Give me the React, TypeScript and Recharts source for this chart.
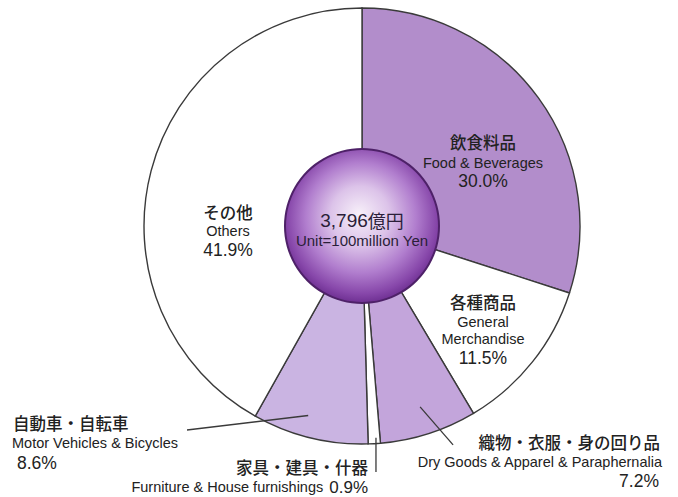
import React from 'react';
import { PieChart, Pie, Cell } from 'recharts';

// Sales breakdown, clockwise from 12 o'clock
const CATEGORIES_JA = ['飲食料品', '各種商品', '織物・衣服・身の回り品', '家具・建具・什器', '自動車・自転車', 'その他'];
const CATEGORIES_EN = ['Food & Beverages', 'General Merchandise', 'Dry Goods & Apparel & Paraphernalia', 'Furniture & House furnishings', 'Motor Vehicles & Bicycles', 'Others'];
const SHARES = [30.0, 11.5, 7.2, 0.9, 8.6, 41.9];
const UNIT_LABEL = 'Unit=100million Yen';

const SLICE_COLORS = ['#b28dcb', '#ffffff', '#c3a5db', '#ffffff', '#cab4e2', '#ffffff'];
const STROKE = '#3a3a3a';
const TEXT = '#222222';
const JA_FONT = '"Noto Sans CJK JP", sans-serif';
const EN_FONT = '"Liberation Sans", Arial, sans-serif';

const pieData = CATEGORIES_EN.map((name, i) => ({ name, ja: CATEGORIES_JA[i], value: SHARES[i] }));
const centerData = [{ name: 'total', value: 1 }];

const RAD = Math.PI / 180;
const polar = (cx: number, cy: number, r: number, angle: number) => ({
  x: cx + r * Math.cos(-angle * RAD),
  y: cy + r * Math.sin(-angle * RAD),
});

const ja = (x: number, y: number, s: string, anchor = 'middle') => (
  <text x={x} y={y} textAnchor={anchor} dominantBaseline="central" fill={TEXT}
    style={{ fontFamily: JA_FONT, fontSize: 16.5, fontWeight: 500 }}>{s}</text>
);
const en = (x: number, y: number, s: string, anchor = 'middle') => (
  <text x={x} y={y} textAnchor={anchor} dominantBaseline="central" fill={TEXT}
    style={{ fontFamily: EN_FONT, fontSize: 14.5 }}>{s}</text>
);
const pct = (x: number, y: number, v: number, anchor = 'middle') => (
  <text x={x} y={y} textAnchor={anchor} dominantBaseline="central" fill={TEXT}
    style={{ fontFamily: EN_FONT, fontSize: 17.5 }}>{`${v.toFixed(1)}%`}</text>
);

const renderLabel = (props: any) => {
  const { cx, cy, midAngle, index } = props;
  const v = SHARES[index];
  const key = `lbl-${index}`;
  switch (index) {
    case 0:
      return (
        <g key={key}>
          {ja(cx + 121, cy - 84, CATEGORIES_JA[0])}
          {en(cx + 121, cy - 63, CATEGORIES_EN[0])}
          {pct(cx + 121, cy - 45, v)}
        </g>
      );
    case 1:
      return (
        <g key={key}>
          {ja(cx + 121, cy + 76, CATEGORIES_JA[1])}
          {en(cx + 121, cy + 96, 'General')}
          {en(cx + 121, cy + 113, 'Merchandise')}
          {pct(cx + 121, cy + 132, v)}
        </g>
      );
    case 2: {
      const p = polar(cx, cy, 190, midAngle);
      return (
        <g key={key}>
          <line x1={p.x} y1={p.y} x2={p.x + 33} y2={p.y + 38} stroke={STROKE} strokeWidth={1.3} />
          {ja(cx + 298, cy + 216, CATEGORIES_JA[2], 'end')}
          {en(cx + 300, cy + 236, CATEGORIES_EN[2], 'end')}
          {pct(cx + 297, cy + 255, v, 'end')}
        </g>
      );
    }
    case 3: {
      const p = polar(cx, cy, 212, midAngle);
      return (
        <g key={key}>
          <line x1={p.x + 2} y1={p.y} x2={p.x + 2} y2={cy + 246} stroke={STROKE} strokeWidth={1.3} />
          {ja(cx + 6, cy + 241, CATEGORIES_JA[3], 'end')}
          <text x={cx + 6} y={cy + 261} textAnchor="end" dominantBaseline="central" fill={TEXT}>
            <tspan style={{ fontFamily: EN_FONT, fontSize: 14.5 }}>{CATEGORIES_EN[3]}</tspan>
            <tspan dx={6} style={{ fontFamily: EN_FONT, fontSize: 17 }}>{`${v.toFixed(1)}%`}</tspan>
          </text>
        </g>
      );
    }
    case 4: {
      const p = polar(cx, cy, 197, midAngle - 2);
      return (
        <g key={key}>
          <line x1={p.x} y1={p.y} x2={cx - 175} y2={cy + 204} stroke={STROKE} strokeWidth={1.3} />
          {ja(cx - 349, cy + 197, CATEGORIES_JA[4], 'start')}
          {en(cx - 350, cy + 217, CATEGORIES_EN[4], 'start')}
          {pct(cx - 345, cy + 237, v, 'start')}
        </g>
      );
    }
    default:
      return (
        <g key={key}>
          {ja(cx - 134, cy - 14, CATEGORIES_JA[5])}
          {en(cx - 134, cy + 5, CATEGORIES_EN[5])}
          {pct(cx - 134, cy + 24, v)}
        </g>
      );
  }
};

const renderCenter = (props: any) => {
  const { cx, cy } = props;
  return (
    <g key="center">
      <text x={cx} y={cy - 6} textAnchor="middle" dominantBaseline="central" fill="#2a1e38"
        style={{ fontFamily: EN_FONT, fontSize: 19 }}>
        3,796<tspan style={{ fontFamily: JA_FONT, fontSize: 18 }}>億円</tspan>
      </text>
      <text x={cx} y={cy + 14} textAnchor="middle" dominantBaseline="central" fill="#2a1e38"
        style={{ fontFamily: EN_FONT, fontSize: 15 }}>{UNIT_LABEL}</text>
    </g>
  );
};

const App: React.FC = () => {
  return (
    <div style={{ position: 'absolute', left: 0, top: 0, width: 678, height: 497, background: '#ffffff' }}>
      <PieChart width={678} height={497} margin={{ top: 0, right: 0, bottom: 0, left: 0 }}>
        <defs>
          <radialGradient id="centerGrad" cx="50%" cy="46%" r="55%" fx="48%" fy="42%">
            <stop offset="0%" stopColor="#f7f0f9" />
            <stop offset="35%" stopColor="#dcc3e9" />
            <stop offset="65%" stopColor="#b17ece" />
            <stop offset="88%" stopColor="#8747aa" />
            <stop offset="100%" stopColor="#6a2c8e" />
          </radialGradient>
        </defs>
        <Pie
          data={pieData}
          dataKey="value"
          cx={362}
          cy={226}
          outerRadius={218}
          innerRadius={0}
          startAngle={90}
          endAngle={-270}
          stroke={STROKE}
          strokeWidth={1.4}
          label={renderLabel}
          labelLine={false}
          isAnimationActive={false}
        >
          {pieData.map((d, i) => (
            <Cell key={d.name} fill={SLICE_COLORS[i]} />
          ))}
        </Pie>
        <Pie
          data={centerData}
          dataKey="value"
          cx={362}
          cy={226}
          outerRadius={77}
          startAngle={90}
          endAngle={-270}
          fill="url(#centerGrad)"
          stroke="none"
          label={renderCenter}
          labelLine={false}
          isAnimationActive={false}
        />
        {/* dark rim round the centre disc */}
        <Pie
          data={centerData}
          dataKey="value"
          cx={362}
          cy={226}
          innerRadius={76}
          outerRadius={78}
          startAngle={90}
          endAngle={-270}
          fill="#4e2168"
          stroke="none"
          isAnimationActive={false}
        />
      </PieChart>
    </div>
  );
};

export default App;
